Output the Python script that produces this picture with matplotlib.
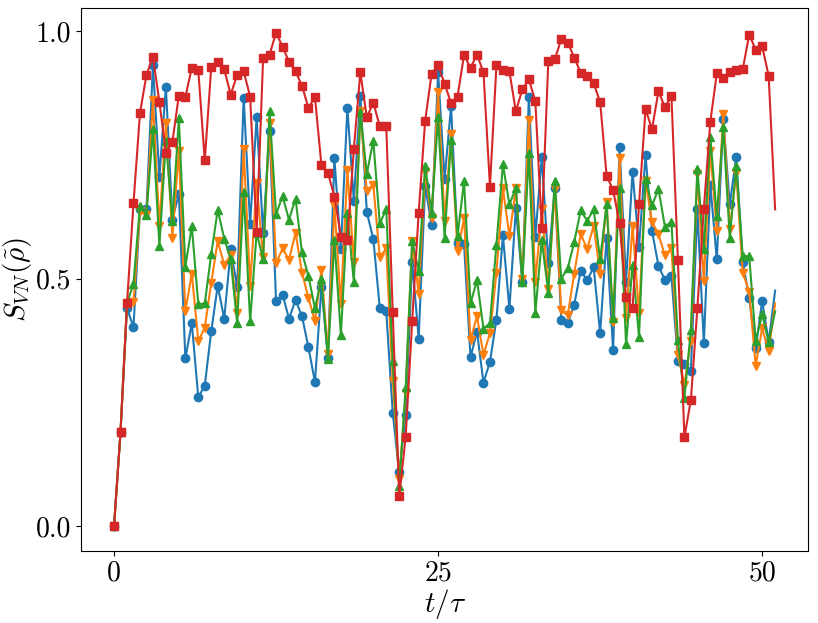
import numpy as np
import matplotlib
matplotlib.use("Agg")
import matplotlib.pyplot as plt

plt.rcParams['mathtext.fontset'] = 'cm'
plt.rcParams['font.family'] = 'serif'
plt.rcParams['font.serif'] = ['cmr10', 'DejaVu Serif']
plt.rcParams['axes.formatter.use_mathtext'] = True

# time grid (markers every 0.5, line ends at 51)
t = np.arange(103) * 0.5

red = [0.0, 0.19, 0.45, 0.652, 0.834, 0.912, 0.948, 0.857, 0.755, 0.776,
       0.870, 0.867, 0.926, 0.921, 0.739, 0.928, 0.938, 0.923, 0.872, 0.912,
       0.919, 0.868, 0.594, 0.945, 0.953, 0.997, 0.969, 0.938, 0.919, 0.890,
       0.845, 0.867, 0.729, 0.714, 0.666, 0.585, 0.578, 0.762, 0.917, 0.826,
       0.856, 0.808, 0.808, 0.433, 0.060, 0.181, 0.414, 0.633, 0.819, 0.914,
       0.931, 0.894, 0.855, 0.868, 0.952, 0.926, 0.953, 0.917, 0.686, 0.931,
       0.922, 0.919, 0.838, 0.883, 0.903, 0.859, 0.603, 0.939, 0.943, 0.984,
       0.977, 0.947, 0.916, 0.910, 0.895, 0.857, 0.708, 0.679, 0.612, 0.463,
       0.440, 0.650, 0.843, 0.802, 0.879, 0.846, 0.870, 0.538, 0.179, 0.255,
       0.440, 0.641, 0.817, 0.915, 0.906, 0.917, 0.921, 0.923, 0.993, 0.963,
       0.970, 0.910, 0.640]

blue = [0.0, 0.19, 0.44, 0.402, 0.640, 0.640, 0.931, 0.706, 0.888, 0.619,
        0.672, 0.339, 0.410, 0.260, 0.284, 0.394, 0.486, 0.419, 0.559, 0.483,
        0.866, 0.610, 0.826, 0.592, 0.799, 0.454, 0.468, 0.419, 0.457, 0.424,
        0.361, 0.291, 0.484, 0.340, 0.743, 0.559, 0.845, 0.657, 0.870, 0.634,
        0.581, 0.441, 0.434, 0.229, 0.109, 0.224, 0.534, 0.379, 0.688, 0.608,
        0.917, 0.701, 0.848, 0.572, 0.571, 0.341, 0.393, 0.290, 0.332, 0.417,
        0.588, 0.439, 0.643, 0.493, 0.867, 0.585, 0.746, 0.531, 0.683, 0.417,
        0.410, 0.447, 0.516, 0.497, 0.523, 0.390, 0.583, 0.355, 0.767, 0.494,
        0.716, 0.564, 0.749, 0.597, 0.526, 0.497, 0.505, 0.334, 0.327, 0.314,
        0.641, 0.369, 0.690, 0.539, 0.822, 0.650, 0.745, 0.534, 0.461, 0.359,
        0.455, 0.372, 0.476]

orange = [0.0, 0.19, 0.45, 0.452, 0.636, 0.628, 0.861, 0.606, 0.814, 0.583,
          0.759, 0.434, 0.510, 0.374, 0.401, 0.492, 0.576, 0.528, 0.548, 0.431,
          0.762, 0.486, 0.693, 0.543, 0.814, 0.531, 0.561, 0.538, 0.593, 0.512,
          0.461, 0.414, 0.517, 0.348, 0.648, 0.448, 0.719, 0.534, 0.838, 0.677,
          0.690, 0.543, 0.561, 0.293, 0.095, 0.269, 0.576, 0.470, 0.716, 0.622,
          0.878, 0.617, 0.792, 0.555, 0.622, 0.376, 0.424, 0.346, 0.390, 0.512,
          0.683, 0.586, 0.683, 0.500, 0.821, 0.493, 0.640, 0.479, 0.681, 0.436,
          0.426, 0.510, 0.590, 0.560, 0.607, 0.510, 0.655, 0.412, 0.743, 0.421,
          0.607, 0.431, 0.697, 0.615, 0.590, 0.547, 0.562, 0.346, 0.286, 0.374,
          0.712, 0.495, 0.759, 0.597, 0.833, 0.600, 0.714, 0.512, 0.474, 0.324,
          0.400, 0.353, 0.450]

green = [0.0, 0.19, 0.45, 0.490, 0.647, 0.629, 0.803, 0.566, 0.779, 0.616,
         0.824, 0.524, 0.606, 0.448, 0.450, 0.550, 0.639, 0.581, 0.539, 0.410,
         0.676, 0.414, 0.593, 0.539, 0.838, 0.630, 0.667, 0.619, 0.662, 0.553,
         0.505, 0.440, 0.500, 0.338, 0.578, 0.386, 0.632, 0.493, 0.836, 0.712,
         0.779, 0.612, 0.640, 0.334, 0.081, 0.281, 0.576, 0.516, 0.728, 0.633,
         0.826, 0.583, 0.781, 0.586, 0.697, 0.450, 0.497, 0.399, 0.410, 0.569,
         0.731, 0.650, 0.683, 0.493, 0.755, 0.431, 0.578, 0.472, 0.698, 0.500,
         0.521, 0.574, 0.638, 0.617, 0.640, 0.539, 0.650, 0.421, 0.683, 0.367,
         0.528, 0.383, 0.702, 0.648, 0.681, 0.605, 0.615, 0.376, 0.259, 0.397,
         0.721, 0.559, 0.786, 0.626, 0.806, 0.583, 0.728, 0.545, 0.546, 0.374,
         0.428, 0.372, 0.434]

xticks = [0, 25, 50]
yticks = [0.0, 0.5, 1.0]

fig = plt.figure(figsize=(8.18, 6.23), dpi=100)
ax = fig.add_axes([0.099, 0.116, 0.889, 0.871])

mk = list(range(len(t) - 1))
ax.plot(t, blue, color='C0', marker='o', markersize=6, lw=1.5, markevery=mk)
ax.plot(t, orange, color='C1', marker='v', markersize=6, lw=1.5, markevery=mk)
ax.plot(t, green, color='C2', marker='^', markersize=6, lw=1.5, markevery=mk)
ax.plot(t, red, color='C3', marker='s', markersize=6, lw=1.5, markevery=mk)

ax.set_xticks(xticks)
ax.set_xticklabels([str(v) for v in xticks])
ax.set_yticks(yticks)
ax.set_yticklabels(['%.1f' % v for v in yticks])
ax.tick_params(labelsize=20)
ax.set_xlabel(r'$t/\tau$', fontsize=21, labelpad=0)
ax.set_ylabel(r'$S_{VN}(\tilde{\rho})$', fontsize=21, labelpad=1)

fig.savefig('out.png', dpi=100)
